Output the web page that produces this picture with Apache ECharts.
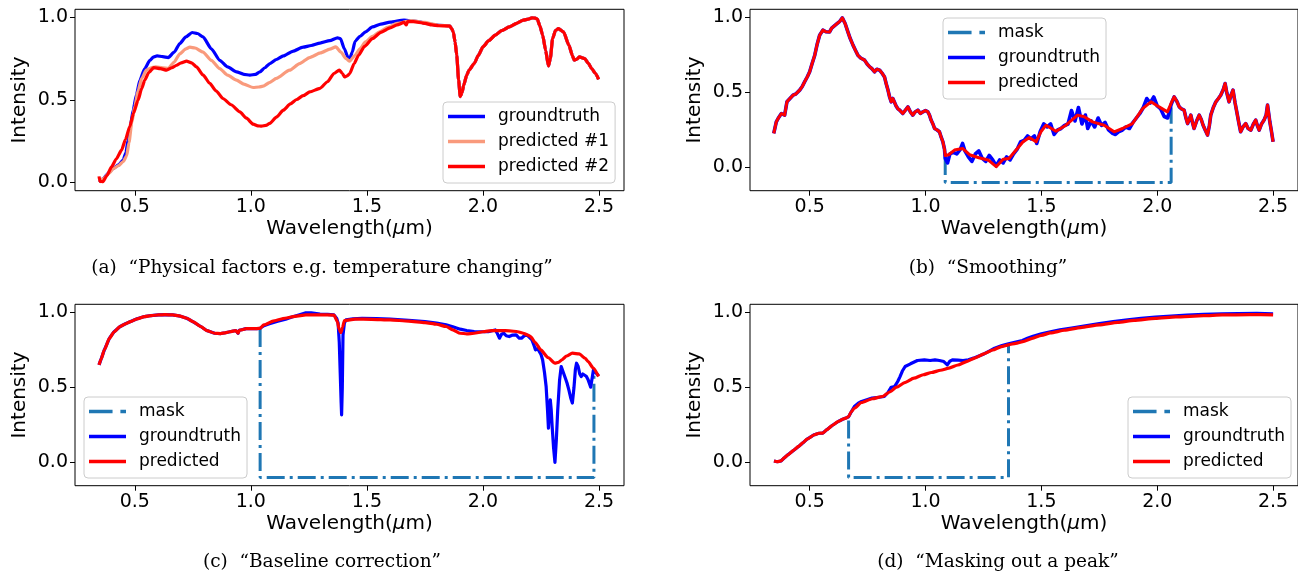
<!DOCTYPE html>
<html>
<head>
<meta charset="utf-8">
<script src="https://cdn.jsdelivr.net/npm/echarts@6/dist/echarts.min.js"></script>
<style>
html,body{margin:0;padding:0;background:#fff;}
#chart{width:1298px;height:575px;}
</style>
</head>
<body>
<div id="chart"></div>
<script>
// ---------- tick labels & captions ----------
const xTicks = [0.5, 1.0, 1.5, 2.0, 2.5];
const yTicks = [0.0, 0.5, 1.0];
const captions = [
  '(a)  \u201cPhysical factors e.g. temperature changing\u201d',
  '(b)  \u201cSmoothing\u201d',
  '(c)  \u201cBaseline correction\u201d',
  '(d)  \u201cMasking out a peak\u201d'
];

// ---------- panel (a) ----------
const aGroundtruth = [[0.346,0.0],[0.363,0.02],[0.39,0.06],[0.406,0.083],[0.43,0.105],[0.45,0.134],[0.462,0.18],[0.471,0.255],[0.482,0.35],[0.493,0.437],[0.507,0.53],[0.522,0.62],[0.543,0.69],[0.565,0.74],[0.58,0.76],[0.596,0.767],[0.62,0.762],[0.644,0.757],[0.67,0.79],[0.694,0.842],[0.72,0.882],[0.747,0.909],[0.77,0.903],[0.794,0.882],[0.83,0.81],[0.866,0.74],[0.9,0.7],[0.938,0.67],[0.97,0.655],[0.996,0.65],[1.02,0.655],[1.039,0.67],[1.06,0.695],[1.082,0.72],[1.11,0.745],[1.14,0.767],[1.18,0.795],[1.225,0.82],[1.26,0.83],[1.298,0.845],[1.34,0.86],[1.373,0.877],[1.386,0.872],[1.403,0.81],[1.418,0.76],[1.426,0.751],[1.437,0.79],[1.449,0.856],[1.47,0.885],[1.494,0.913],[1.524,0.943],[1.56,0.96],[1.6,0.972],[1.66,0.984],[1.72,0.976],[1.75,0.966],[1.78,0.958],[1.81,0.953],[1.857,0.95]];
const aPredicted1 = [[0.346,0.0],[0.363,0.02],[0.39,0.055],[0.406,0.08],[0.43,0.1],[0.45,0.125],[0.465,0.16],[0.475,0.24],[0.487,0.36],[0.5,0.46],[0.515,0.56],[0.53,0.63],[0.55,0.68],[0.57,0.695],[0.59,0.7],[0.62,0.695],[0.644,0.69],[0.67,0.73],[0.694,0.78],[0.72,0.81],[0.737,0.82],[0.76,0.815],[0.794,0.79],[0.83,0.74],[0.866,0.69],[0.9,0.65],[0.938,0.62],[0.97,0.595],[1.01,0.575],[1.035,0.578],[1.053,0.583],[1.08,0.605],[1.11,0.63],[1.167,0.68],[1.21,0.72],[1.253,0.757],[1.3,0.785],[1.34,0.808],[1.366,0.822],[1.388,0.79],[1.41,0.75],[1.426,0.735],[1.449,0.771],[1.47,0.81],[1.494,0.852],[1.524,0.885],[1.554,0.913],[1.59,0.94],[1.63,0.964],[1.69,0.982],[1.75,0.97],[1.796,0.957],[1.81,0.952],[1.857,0.949]];
const aPredicted2 = [[0.346,0.035],[0.35,0.005],[0.363,0.003],[0.38,0.04],[0.4,0.093],[0.42,0.14],[0.443,0.194],[0.46,0.26],[0.478,0.336],[0.495,0.42],[0.514,0.498],[0.53,0.57],[0.543,0.62],[0.56,0.665],[0.582,0.696],[0.61,0.69],[0.637,0.68],[0.66,0.695],[0.68,0.71],[0.7,0.725],[0.723,0.735],[0.745,0.725],[0.766,0.7],[0.795,0.65],[0.823,0.6],[0.85,0.555],[0.88,0.508],[0.915,0.47],[0.953,0.427],[0.98,0.39],[1.01,0.352],[1.03,0.342],[1.046,0.34],[1.065,0.345],[1.082,0.357],[1.11,0.395],[1.14,0.437],[1.17,0.475],[1.197,0.502],[1.225,0.525],[1.254,0.548],[1.298,0.57],[1.33,0.61],[1.358,0.66],[1.381,0.68],[1.395,0.66],[1.403,0.64],[1.415,0.645],[1.426,0.66],[1.445,0.72],[1.464,0.771],[1.49,0.825],[1.524,0.872],[1.56,0.91],[1.6,0.937],[1.63,0.955],[1.66,0.97],[1.67,0.955],[1.675,0.975],[1.7,0.975],[1.75,0.965],[1.78,0.955],[1.81,0.95],[1.857,0.948]];
// common tail (all three curves overlap beyond ~1.86 um)
const aTail = [[1.866,0.93],[1.872,0.913],[1.88,0.85],[1.887,0.771],[1.895,0.62],[1.902,0.52],[1.91,0.545],[1.917,0.589],[1.93,0.65],[1.94,0.68],[1.962,0.72],[1.98,0.77],[2.0,0.822],[2.025,0.86],[2.053,0.893],[2.08,0.92],[2.113,0.943],[2.145,0.965],[2.174,0.984],[2.195,0.99],[2.211,0.998],[2.225,0.996],[2.234,0.99],[2.245,0.95],[2.257,0.893],[2.27,0.8],[2.282,0.706],[2.29,0.75],[2.3,0.872],[2.312,0.92],[2.325,0.933],[2.347,0.913],[2.37,0.832],[2.385,0.77],[2.393,0.741],[2.405,0.748],[2.415,0.761],[2.438,0.751],[2.455,0.72],[2.468,0.69],[2.485,0.66],[2.498,0.625]];

// ---------- panel (b) ----------
const bLeft = [[0.345,0.227],[0.356,0.304],[0.365,0.33],[0.378,0.36],[0.392,0.349],[0.402,0.438],[0.41,0.427],[0.428,0.482],[0.44,0.49],[0.457,0.516],[0.468,0.54],[0.478,0.571],[0.49,0.605],[0.5,0.638],[0.51,0.69],[0.522,0.749],[0.532,0.82],[0.543,0.882],[0.557,0.916],[0.57,0.905],[0.586,0.904],[0.595,0.93],[0.603,0.938],[0.618,0.96],[0.63,0.975],[0.641,0.998],[0.653,0.96],[0.665,0.904],[0.675,0.86],[0.687,0.816],[0.698,0.78],[0.708,0.749],[0.72,0.73],[0.737,0.716],[0.748,0.69],[0.759,0.671],[0.768,0.66],[0.78,0.638],[0.79,0.655],[0.802,0.649],[0.812,0.63],[0.823,0.604],[0.83,0.56],[0.838,0.516],[0.845,0.47],[0.852,0.438],[0.859,0.46],[0.866,0.449],[0.873,0.41],[0.88,0.393],[0.89,0.38],[0.902,0.36],[0.912,0.38],[0.924,0.404],[0.935,0.37],[0.945,0.349],[0.955,0.37],[0.967,0.382],[0.978,0.36],[0.989,0.371],[1.0,0.38],[1.01,0.371],[1.017,0.35],[1.024,0.316],[1.032,0.29],[1.039,0.26],[1.05,0.25],[1.06,0.238],[1.068,0.2],[1.075,0.171],[1.082,0.12]];
const bGtMasked = [[1.085,0.06],[1.095,0.03],[1.105,0.09],[1.12,0.1],[1.135,0.09],[1.15,0.12],[1.16,0.16],[1.17,0.11],[1.185,0.07],[1.2,0.04],[1.215,0.09],[1.23,0.11],[1.245,0.06],[1.26,0.04],[1.275,0.08],[1.29,0.05],[1.305,0.01],[1.32,0.05],[1.335,0.03],[1.35,0.07],[1.365,0.05],[1.38,0.09],[1.395,0.12],[1.41,0.17],[1.425,0.18],[1.44,0.21],[1.455,0.19],[1.47,0.21],[1.48,0.16],[1.495,0.24],[1.51,0.29],[1.525,0.27],[1.54,0.29],[1.555,0.22],[1.57,0.25],[1.585,0.26],[1.6,0.28],[1.615,0.29],[1.63,0.38],[1.645,0.31],[1.66,0.4],[1.675,0.29],[1.69,0.35],[1.7,0.26],[1.715,0.31],[1.73,0.27],[1.745,0.33],[1.76,0.28],[1.775,0.3],[1.79,0.25],[1.805,0.23],[1.82,0.22],[1.835,0.24],[1.85,0.25],[1.865,0.27],[1.88,0.26],[1.895,0.3],[1.91,0.33],[1.925,0.36],[1.94,0.4],[1.955,0.46],[1.97,0.43],[1.985,0.47],[2.0,0.41],[2.015,0.39],[2.03,0.34],[2.045,0.33],[2.06,0.42]];
const bPredMasked = [[1.085,0.08],[1.1,0.085],[1.125,0.116],[1.16,0.127],[1.19,0.085],[1.23,0.065],[1.27,0.05],[1.305,0.005],[1.335,0.055],[1.36,0.06],[1.39,0.115],[1.42,0.17],[1.448,0.2],[1.477,0.171],[1.498,0.238],[1.52,0.282],[1.563,0.242],[1.606,0.282],[1.656,0.349],[1.685,0.338],[1.721,0.304],[1.771,0.282],[1.814,0.238],[1.85,0.26],[1.893,0.293],[1.937,0.393],[1.973,0.438],[2.008,0.404],[2.044,0.371],[2.066,0.449]];
const bRight = [[2.073,0.471],[2.085,0.44],[2.095,0.404],[2.105,0.39],[2.116,0.382],[2.124,0.33],[2.131,0.293],[2.138,0.32],[2.145,0.349],[2.152,0.3],[2.159,0.26],[2.17,0.31],[2.181,0.349],[2.19,0.32],[2.198,0.282],[2.207,0.25],[2.217,0.216],[2.225,0.28],[2.231,0.349],[2.242,0.4],[2.253,0.438],[2.264,0.46],[2.274,0.482],[2.285,0.52],[2.293,0.56],[2.3,0.5],[2.31,0.438],[2.318,0.48],[2.327,0.516],[2.336,0.43],[2.346,0.349],[2.353,0.29],[2.36,0.238],[2.37,0.27],[2.382,0.293],[2.392,0.26],[2.404,0.249],[2.415,0.29],[2.425,0.316],[2.432,0.28],[2.44,0.249],[2.45,0.29],[2.461,0.316],[2.47,0.35],[2.476,0.416],[2.481,0.36],[2.486,0.304],[2.492,0.25],[2.5,0.171]];
const bMask = [[1.085,0.07],[1.085,-0.1],[2.06,-0.1],[2.06,0.40]];

// ---------- panel (c) ----------
const cHead = [[0.346,0.651],[0.355,0.69],[0.369,0.751],[0.391,0.829],[0.41,0.87],[0.437,0.907],[0.46,0.925],[0.482,0.94],[0.51,0.958],[0.542,0.973],[0.57,0.98],[0.603,0.984],[0.63,0.986],[0.663,0.984],[0.69,0.978],[0.724,0.962],[0.75,0.94],[0.784,0.907],[0.81,0.88],[0.844,0.862],[0.87,0.86],[0.89,0.865],[0.91,0.872],[0.935,0.88],[0.945,0.862],[0.95,0.882],[0.96,0.885],[0.98,0.893],[1.0,0.893],[1.026,0.893],[1.04,0.895]];
const cGtTail = [[1.056,0.912],[1.08,0.925],[1.116,0.942],[1.15,0.955],[1.177,0.97],[1.21,0.985],[1.237,0.998],[1.26,0.998],[1.298,0.99],[1.33,0.988],[1.358,0.984],[1.37,0.96],[1.376,0.929],[1.381,0.8],[1.385,0.6],[1.389,0.4],[1.391,0.318],[1.394,0.5],[1.397,0.85],[1.403,0.93],[1.41,0.951],[1.44,0.958],[1.479,0.962],[1.54,0.96],[1.6,0.956],[1.68,0.948],[1.75,0.94],[1.8,0.93],[1.841,0.918],[1.87,0.905],[1.902,0.889],[1.93,0.88],[1.962,0.873],[2.0,0.872],[2.023,0.873],[2.053,0.884],[2.062,0.86],[2.071,0.829],[2.08,0.855],[2.09,0.862],[2.1,0.845],[2.113,0.84],[2.128,0.85],[2.143,0.851],[2.155,0.83],[2.166,0.829],[2.178,0.845],[2.189,0.851],[2.2,0.835],[2.211,0.818],[2.22,0.78],[2.226,0.751],[2.235,0.76],[2.241,0.751],[2.25,0.72],[2.257,0.684],[2.265,0.6],[2.272,0.507],[2.278,0.35],[2.282,0.229],[2.286,0.35],[2.29,0.418],[2.294,0.35],[2.298,0.24],[2.304,0.1],[2.31,0.0],[2.316,0.15],[2.322,0.351],[2.33,0.55],[2.337,0.64],[2.345,0.63],[2.355,0.562],[2.362,0.53],[2.37,0.484],[2.378,0.43],[2.385,0.396],[2.392,0.5],[2.398,0.62],[2.403,0.662],[2.41,0.64],[2.417,0.59],[2.423,0.573],[2.43,0.59],[2.438,0.596],[2.445,0.575],[2.453,0.551],[2.46,0.52],[2.464,0.502],[2.47,0.56],[2.476,0.618],[2.485,0.6],[2.498,0.578]];
const cPredTail = [[1.056,0.918],[1.1,0.945],[1.147,0.962],[1.19,0.975],[1.237,0.984],[1.3,0.985],[1.358,0.983],[1.373,0.94],[1.38,0.89],[1.388,0.867],[1.395,0.9],[1.403,0.947],[1.449,0.956],[1.52,0.955],[1.6,0.951],[1.68,0.943],[1.75,0.933],[1.8,0.922],[1.841,0.907],[1.87,0.885],[1.902,0.862],[1.93,0.858],[1.962,0.862],[2.0,0.872],[2.038,0.88],[2.08,0.88],[2.113,0.878],[2.15,0.872],[2.174,0.862],[2.19,0.852],[2.205,0.84],[2.225,0.8],[2.249,0.751],[2.28,0.7],[2.31,0.662],[2.325,0.668],[2.34,0.684],[2.36,0.71],[2.385,0.729],[2.415,0.724],[2.44,0.695],[2.453,0.673],[2.475,0.63],[2.498,0.573]];
const cMask = [[1.04,0.89],[1.04,-0.1],[2.478,-0.1],[2.478,0.62]];

// ---------- panel (d) ----------
const dHead = [[0.346,0.01],[0.36,0.005],[0.376,0.01],[0.39,0.03],[0.406,0.051],[0.43,0.08],[0.452,0.107],[0.47,0.13],[0.489,0.156],[0.52,0.185],[0.54,0.195],[0.557,0.196],[0.575,0.22],[0.6,0.25],[0.625,0.275],[0.645,0.29],[0.656,0.296],[0.668,0.305]];
const dGtTail = [[0.678,0.333],[0.693,0.373],[0.71,0.395],[0.724,0.407],[0.75,0.42],[0.769,0.429],[0.8,0.435],[0.822,0.44],[0.837,0.465],[0.852,0.502],[0.867,0.507],[0.88,0.54],[0.89,0.573],[0.9,0.61],[0.912,0.64],[0.935,0.658],[0.965,0.68],[0.995,0.684],[1.02,0.68],[1.041,0.684],[1.06,0.68],[1.079,0.673],[1.094,0.651],[1.105,0.675],[1.116,0.684],[1.14,0.682],[1.162,0.68],[1.185,0.685],[1.207,0.696],[1.23,0.71],[1.252,0.724],[1.275,0.743],[1.298,0.762],[1.33,0.78],[1.358,0.791],[1.39,0.803],[1.418,0.814],[1.44,0.828],[1.464,0.842],[1.5,0.858],[1.539,0.872],[1.58,0.885],[1.63,0.897],[1.69,0.912],[1.75,0.927],[1.81,0.94],[1.872,0.952],[1.93,0.962],[1.992,0.97],[2.06,0.977],[2.128,0.983],[2.2,0.988],[2.279,0.992],[2.35,0.993],[2.43,0.994],[2.5,0.991]];
const dPredTail = [[0.678,0.335],[0.693,0.362],[0.724,0.4],[0.77,0.425],[0.814,0.44],[0.845,0.47],[0.875,0.502],[0.91,0.532],[0.95,0.562],[0.99,0.585],[1.026,0.6],[1.065,0.615],[1.101,0.629],[1.14,0.65],[1.177,0.673],[1.215,0.698],[1.252,0.724],[1.29,0.75],[1.328,0.773],[1.358,0.785],[1.39,0.795],[1.42,0.806],[1.46,0.828],[1.5,0.848],[1.54,0.864],[1.6,0.882],[1.67,0.9],[1.75,0.918],[1.83,0.935],[1.9,0.948],[1.992,0.961],[2.08,0.971],[2.2,0.979],[2.28,0.984],[2.4,0.986],[2.5,0.985]];
const dMask = [[0.668,0.28],[0.668,-0.1],[1.358,-0.1],[1.358,0.78]];

// ---------- styles ----------
const BLUE = '#0000ff', RED = '#ff0000', SALMON = '#f99a7c', MASK = '#1f77b4';
const FONT = 'DejaVu Sans';
const LINE_ICON = 'rect';
const MASK_ICON = 'path://M0,0H21V3H0ZM28,0H33V3H28Z';
const grids = [
  {left: 75, top: 9.3, width: 549, height: 181.4},
  {left: 750, top: 9.3, width: 549, height: 181.4},
  {left: 75, top: 304.3, width: 549, height: 181.4},
  {left: 750, top: 304.3, width: 549, height: 181.4}
];
const yRanges = [[-0.052, 1.05], [-0.155, 1.055], [-0.155, 1.055], [-0.155, 1.055]];

const option = {
  animation: false,
  backgroundColor: '#fff',
  grid: grids.map(g => Object.assign({show: true, borderColor: '#000', borderWidth: 1, backgroundColor: 'transparent'}, g)),
  xAxis: grids.map((g, i) => ({
    type: 'value', gridIndex: i, min: 0.2425, max: 2.6075,
    axisLine: {show: false, onZero: false},
    splitLine: {show: false},
    axisTick: {show: true, length: 5, customValues: xTicks, lineStyle: {color: '#000', width: 1}},
    axisLabel: {customValues: xTicks, formatter: v => v.toFixed(1), color: '#000', fontFamily: FONT, fontSize: 19, margin: 7},
    name: '{n|Wavelength(}{i|\u03bc}{n|m)}',
    nameLocation: 'middle', nameGap: 28,
    nameTextStyle: {color: '#000', fontFamily: FONT, fontSize: 20,
      rich: {n: {fontFamily: FONT, fontSize: 20, color: '#000'},
             i: {fontFamily: FONT, fontSize: 20, fontStyle: 'italic', color: '#000'}}}
  })),
  yAxis: grids.map((g, i) => ({
    type: 'value', gridIndex: i, min: yRanges[i][0], max: yRanges[i][1],
    axisLine: {show: false, onZero: false},
    splitLine: {show: false},
    axisTick: {show: true, length: 5, customValues: yTicks, lineStyle: {color: '#000', width: 1}},
    axisLabel: {customValues: yTicks, formatter: v => v.toFixed(1), color: '#000', fontFamily: FONT, fontSize: 19, margin: 7},
    name: 'Intensity', nameLocation: 'middle', nameGap: 45,
    nameTextStyle: {color: '#000', fontFamily: FONT, fontSize: 20}
  })),
  legend: [
    {left: 443, top: 102, names: ['groundtruth', 'predicted #1', 'predicted #2']},
    {left: 943, top: 18, names: ['mask', 'groundtruth', 'predicted']},
    {left: 84, top: 397, names: ['mask', 'groundtruth', 'predicted']},
    {left: 1128, top: 397, names: ['mask', 'groundtruth', 'predicted']}
  ].map(l => ({
    left: l.left, top: l.top, orient: 'vertical',
    data: l.names.map(n => ({name: n, icon: n === 'mask' ? MASK_ICON : LINE_ICON})),
    itemWidth: 37, itemHeight: 3.5, itemGap: 0,
    padding: [2, 6, 4, 5],
    backgroundColor: 'rgba(255,255,255,0.8)', borderColor: '#cccccc', borderWidth: 1, borderRadius: 4,
    textStyle: {color: '#000', fontFamily: FONT, fontSize: 17, lineHeight: 25, padding: [0, 0, 0, 8]},
    selectedMode: false
  })),
  graphic: [
    {x: 322, y: 268, text: captions[0]},
    {x: 988, y: 268, text: captions[1]},
    {x: 322, y: 562, text: captions[2]},
    {x: 998, y: 562, text: captions[3]}
  ].map(c => ({
    type: 'text', x: c.x, y: c.y, silent: true,
    style: {text: c.text, font: '18.5px "DejaVu Serif"', fill: '#000', textAlign: 'center', textVerticalAlign: 'middle'}
  })),
  series: []
};

function line(name, idx, data, color, width, extra) {
  return Object.assign({
    type: 'line', name: name, xAxisIndex: idx, yAxisIndex: idx, data: data,
    symbol: 'none', showSymbol: false, color: color,
    lineStyle: {color: color, width: width, cap: 'butt', join: 'round'},
    z: 2
  }, extra || {});
}
const maskLine = {color: MASK, width: 3, type: [18, 5, 3, 5], cap: 'butt'};

option.series.push(
  line('groundtruth', 0, aGroundtruth.concat(aTail), BLUE, 3.2, {smooth: 0.2, smoothMonotone: 'x'}),
  line('predicted #1', 0, aPredicted1.concat(aTail), SALMON, 3.2, {smooth: 0.2, smoothMonotone: 'x'}),
  line('predicted #2', 0, aPredicted2.concat(aTail), RED, 3.2, {smooth: 0.2, smoothMonotone: 'x'}),

  line('mask', 1, bMask, MASK, 3, {lineStyle: maskLine}),
  line('groundtruth', 1, bLeft.concat(bGtMasked, bRight), BLUE, 3.6),
  line('predicted', 1, bLeft.concat(bPredMasked, bRight), RED, 3),

  line('mask', 2, cMask, MASK, 3, {lineStyle: maskLine}),
  line('groundtruth', 2, cHead.concat(cGtTail), BLUE, 3.2),
  line('predicted', 2, cHead.concat(cPredTail), RED, 3.2, {smooth: 0.2, smoothMonotone: 'x'}),

  line('mask', 3, dMask, MASK, 3, {lineStyle: maskLine}),
  line('groundtruth', 3, dHead.concat(dGtTail), BLUE, 3.2),
  line('predicted', 3, dHead.concat(dPredTail), RED, 3.2, {smooth: 0.2, smoothMonotone: 'x'})
);

const chart = echarts.init(document.getElementById('chart'), null, {renderer: 'canvas'});
chart.setOption(option);
</script>
</body>
</html>
